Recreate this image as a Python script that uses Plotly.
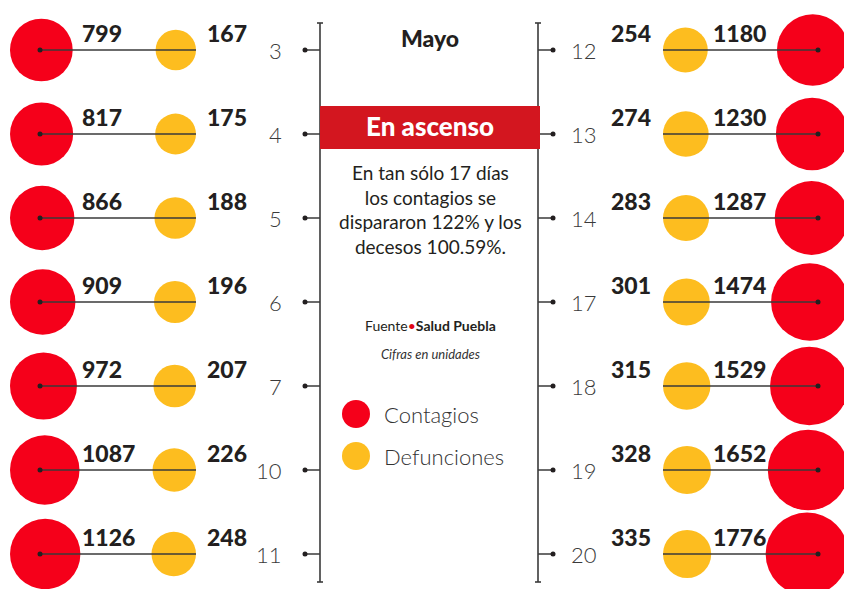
import plotly.graph_objects as go
import math

# ---------------- data ----------------
left_days = ["3", "4", "5", "6", "7", "10", "11"]
left_contagios = [799, 817, 866, 909, 972, 1087, 1126]
left_defunciones = [167, 175, 188, 196, 207, 226, 248]

right_days = ["12", "13", "14", "17", "18", "19", "20"]
right_defunciones = [254, 274, 283, 301, 315, 328, 335]
right_contagios = [1180, 1230, 1287, 1474, 1529, 1652, 1776]

series_names = ["Contagios", "Defunciones"]
month_label = "Mayo"

# ---------------- style ----------------
RED = "#F5001A"
YEL = "#FDBD1F"
INK = "#231F20"
LINE = "#3a3a3a"
BANNER = "#D3161F"
W, H = 844, 589
ROW0, ROWSTEP = 50, 84          # pixel y of first row, row spacing
FONT = "Lato"


def radius(v):
    return 10.8 + 0.727 * math.sqrt(v)


def py(p):
    """pixel y -> row-axis units"""
    return (p - ROW0) / ROWSTEP


rows = list(range(len(left_days)))

fig = go.Figure()

# ---- circles ----
lr = [radius(v) for v in left_contagios]
ld = [radius(v) for v in left_defunciones]
rr = [radius(v) for v in right_contagios]
rd = [radius(v) for v in right_defunciones]

def bubbles(xs, rs, color):
    return go.Scatter(x=xs, y=rows, mode="markers",
                      marker=dict(size=[2 * r for r in rs], color=color, opacity=1,
                                  line=dict(width=0)),
                      hoverinfo="skip")

fig.add_trace(bubbles([10 + r for r in lr], lr, RED))
fig.add_trace(bubbles([196 - r for r in ld], ld, YEL))
fig.add_trace(bubbles([848.5 - r for r in rr], rr, RED))
fig.add_trace(bubbles([663 + r for r in rd], rd, YEL))

# ---- connecting lines ----
lx, ly, rx, ry = [], [], [], []
for i in rows:
    lx += [40, 196, None]
    ly += [i, i, None]
    rx += [663, 818, None]
    ry += [i, i, None]
fig.add_trace(go.Scatter(x=lx, y=ly, mode="lines", line=dict(color=LINE, width=1.6), hoverinfo="skip"))
fig.add_trace(go.Scatter(x=rx, y=ry, mode="lines", line=dict(color=LINE, width=1.6), hoverinfo="skip"))
fig.add_trace(go.Scatter(x=[40] * len(rows) + [818] * len(rows), y=rows + rows, mode="markers",
                         marker=dict(size=5, color=INK), hoverinfo="skip"))

# ---- central axes ticks ----
tx, ty = [], []
for i in rows:
    tx += [305, 320, None, 538, 553, None]
    ty += [i, i, None, i, i, None]
fig.add_trace(go.Scatter(x=tx, y=ty, mode="lines", line=dict(color=LINE, width=1.5), hoverinfo="skip"))
fig.add_trace(go.Scatter(x=[305] * len(rows) + [553] * len(rows), y=rows + rows, mode="markers",
                         marker=dict(size=5, color=INK), hoverinfo="skip"))

# ---- legend markers ----
fig.add_trace(go.Scatter(x=[356, 356], y=[py(414), py(456)], mode="markers",
                         marker=dict(size=28, color=[RED, YEL], opacity=1, line=dict(width=0)),
                         hoverinfo="skip"))

shapes = []
for ax_x in (320, 538):
    shapes.append(dict(type="line", x0=ax_x, x1=ax_x, y0=py(23), y1=py(582),
                       xref="x", yref="y", line=dict(color=LINE, width=1.6)))
    for cap in (23, 582):
        shapes.append(dict(type="line", x0=ax_x - 3, x1=ax_x + 3, y0=py(cap), y1=py(cap),
                           xref="x", yref="y", line=dict(color=LINE, width=1.6)))
shapes.append(dict(type="rect", x0=320, x1=540, y0=py(106), y1=py(149), xref="x", yref="y",
                   fillcolor=BANNER, line=dict(width=0), layer="above"))

ann = []
num_font = dict(family=FONT, size=23, color=INK, weight=900)
day_font = dict(family=FONT, size=22, color="#3a3a3a", weight=300)
for i in rows:
    ann.append(dict(x=80, y=py(ROW0 + ROWSTEP * i - 17.5), text=str(left_contagios[i]),
                    xanchor="left", yanchor="middle", showarrow=False, font=num_font))
    ann.append(dict(x=205, y=py(ROW0 + ROWSTEP * i - 17.5), text=str(left_defunciones[i]),
                    xanchor="left", yanchor="middle", showarrow=False, font=num_font))
    ann.append(dict(x=653, y=py(ROW0 + ROWSTEP * i - 17.5), text=str(right_defunciones[i]),
                    xanchor="right", yanchor="middle", showarrow=False, font=num_font))
    ann.append(dict(x=768, y=py(ROW0 + ROWSTEP * i - 17.5), text=str(right_contagios[i]),
                    xanchor="right", yanchor="middle", showarrow=False, font=num_font))
    ann.append(dict(x=284, y=i, text=left_days[i], xanchor="right", yanchor="middle",
                    showarrow=False, font=day_font))
    ann.append(dict(x=569, y=i, text=right_days[i], xanchor="left", yanchor="middle",
                    showarrow=False, font=day_font))

ann.append(dict(x=430, y=py(38), text=month_label, xanchor="center", yanchor="middle",
                showarrow=False, font=dict(family=FONT, size=23, color=INK, weight=900)))
ann.append(dict(x=430, y=py(126), text="En ascenso", xanchor="center", yanchor="middle",
                showarrow=False, font=dict(family=FONT, size=26, color="white", weight=900)))
ann.append(dict(x=430, y=py(209),
                text="En tan sólo 17 días<br>los contagios se<br>dispararon 122% y los<br>decesos 100.59%.",
                xanchor="center", yanchor="middle", align="center", showarrow=False,
                font=dict(family=FONT, size=19, color=INK)))
ann.append(dict(x=430, y=py(325),
                text="Fuente<span style='color:#E30613'>•</span><b>Salud Puebla</b>",
                xanchor="center", yanchor="middle", showarrow=False,
                font=dict(family=FONT, size=14, color=INK)))
ann.append(dict(x=430, y=py(354), text="<i>Cifras en unidades</i>",
                xanchor="center", yanchor="middle", showarrow=False,
                font=dict(family=FONT, size=13, color="#333")))
ann.append(dict(x=382, y=py(414), text=series_names[0], xanchor="left", yanchor="middle",
                showarrow=False, font=dict(family=FONT, size=22, color="#333", weight=300)))
ann.append(dict(x=382, y=py(456), text=series_names[1], xanchor="left", yanchor="middle",
                showarrow=False, font=dict(family=FONT, size=22, color="#333", weight=300)))

fig.update_layout(
    width=W, height=H, margin=dict(l=0, r=0, t=0, b=0),
    paper_bgcolor="white", plot_bgcolor="white", showlegend=False,
    xaxis=dict(range=[0, W], visible=False, fixedrange=True),
    yaxis=dict(range=[py(H), py(0)], visible=False, fixedrange=True),
    shapes=shapes, annotations=ann,
)

fig.write_html("out.html", config={"displayModeBar": False},
               post_script="document.body.style.margin='0';document.body.style.overflow='hidden';")
